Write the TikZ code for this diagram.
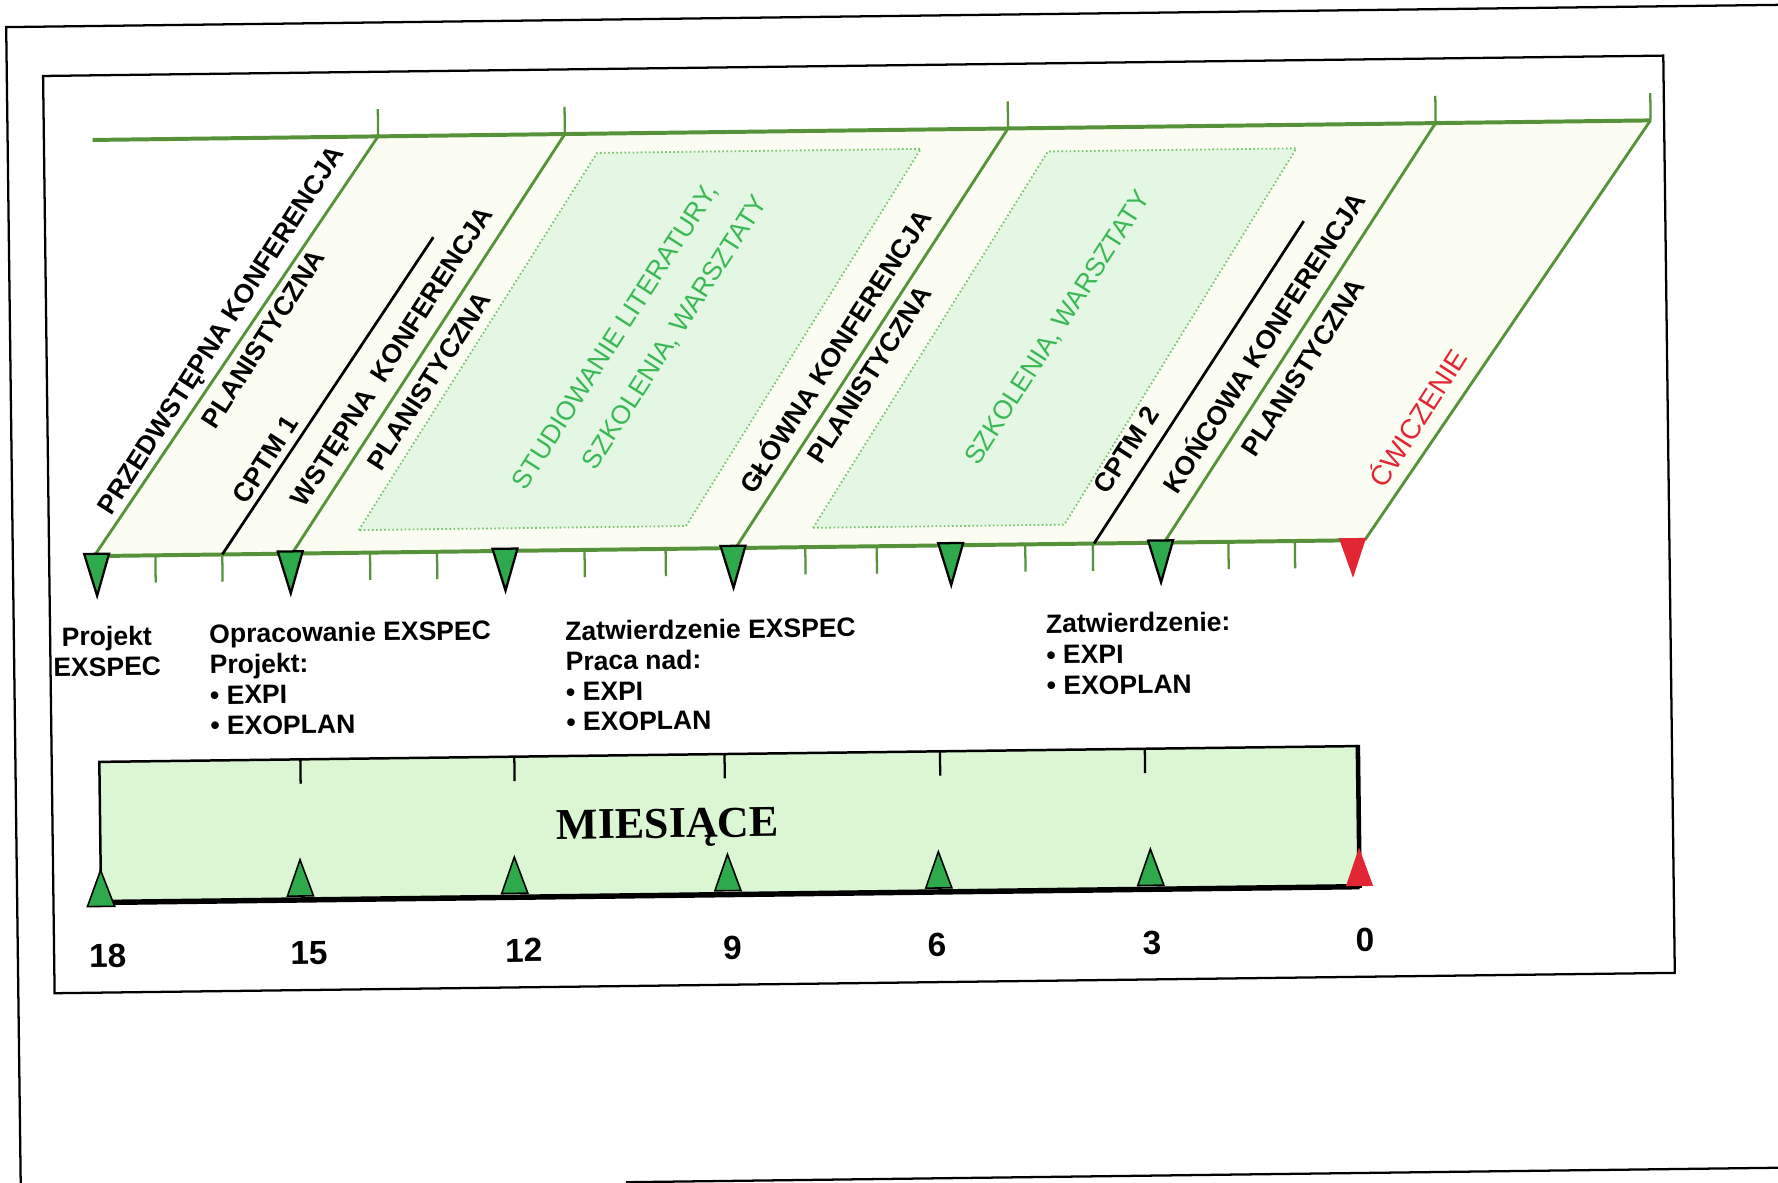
\documentclass[tikz,border=0pt]{standalone}
\usepackage{fontspec}
\setmainfont{Liberation Sans}
\newfontfamily\serifbold{Liberation Serif}
\definecolor{bandline}{RGB}{86,146,58}
\definecolor{bandfill}{RGB}{252,253,242}
\definecolor{studyfill}{RGB}{227,247,227}
\definecolor{studydot}{RGB}{120,196,110}
\definecolor{markgreen}{RGB}{46,170,76}
\definecolor{markred}{RGB}{226,38,52}
\definecolor{textgreen}{RGB}{58,184,84}
\definecolor{barfill}{RGB}{219,246,211}
\begin{document}
\begin{tikzpicture}[x=0.5pt,y=-0.5pt,
  slantlabel/.style={font=\fontsize{11.7}{14}\selectfont\bfseries, rotate=57.3,
    inner sep=0pt, text height=8.4pt, text depth=0pt},
  greenlabel/.style={font=\fontsize{11.6}{14}\selectfont, text=textgreen, rotate=57.3,
    inner sep=0pt, text height=8.3pt, text depth=0pt},
  redlabel/.style={font=\fontsize{12.3}{14}\selectfont, text=markred, rotate=57.3,
    inner sep=0pt, text height=8.8pt, text depth=0pt},
  noteline/.style={font=\fontsize{11.7}{13.5}\selectfont\bfseries, anchor=base west,
    inner sep=0pt, rotate=0.72},
  notecentre/.style={noteline, anchor=base},
  monthnum/.style={font=\fontsize{14.7}{16}\selectfont\bfseries, anchor=base,
    inner sep=0pt, rotate=0.72},
  bandstroke/.style={bandline, line width=1.75pt},
  slantstroke/.style={bandline, line width=1.25pt},
  tickstroke/.style={bandline, line width=1pt},
  downmark/.style={fill=markgreen, draw=black, line width=1pt, line join=miter},
  upmark/.style={fill=markgreen, draw=black, line width=0.7pt, line join=miter}
]
\useasboundingbox (0,0) rectangle (1568,1043);
\clip (0,0) rectangle (1568,1043);
\fill[white] (0,0) rectangle (1568,1043);

\begin{scope}[rotate around={0.72:(38,67)}]
  % page edges and frame
  \draw[line width=1pt] (1650,23.5) -- (6,23.5) -- (6,1120);
  \draw[line width=1pt] (540,1049) -- (1650,1049);
  \draw[line width=1pt] (38,67) rectangle (1467,876);

  % slanted band geometry
  \coordinate (topstart) at (81,124);
  \coordinate (l1b) at (77.7,491);   \coordinate (l1t) at (332.8,124);
  \coordinate (l2b) at (252.2,491);  \coordinate (l2t) at (497.5,124);
  \coordinate (l3b) at (643.5,491);  \coordinate (l3t) at (888.4,124);
  \coordinate (l4b) at (1021.4,491); \coordinate (l4t) at (1265.5,124);
  \coordinate (l5b) at (1198.5,491); \coordinate (l5t) at (1455.1,124);
  \coordinate (c1b) at (190.7,491);  \coordinate (c1t) at (380.4,213.5);
  \coordinate (c2b) at (959.7,491);  \coordinate (c2t) at (1148.2,209);

  \fill[bandfill] (l1b) -- (l1t) -- (l5t) -- (l5b) -- cycle;

  % study / workshop areas
  \filldraw[fill=studyfill, draw=studydot, line width=0.8pt, dash pattern=on 0.7pt off 1.1pt]
    (311.4,471) -- (525.6,141) -- (811.2,141) -- (600,471) -- cycle;
  \filldraw[fill=studyfill, draw=studydot, line width=0.8pt, dash pattern=on 0.7pt off 1.1pt]
    (712,474) -- (923.2,144.7) -- (1142.4,144.7) -- (933.6,474) -- cycle;

  % band outline
  \draw[bandstroke] (topstart) -- (l5t);
  \draw[bandstroke] (l1b) -- (l5b);
  \foreach \p in {l1,l2,l3,l4,l5}
    \draw[slantstroke] (\p b) -- (\p t);
  \draw[black, line width=1.2pt] (c1b) -- (c1t);
  \draw[black, line width=1.2pt] (c2b) -- (c2t);

  % ticks above and below the band
  \foreach \u in {332.8,497.5,888.4,1265.5,1455.1}
    \draw[tickstroke] (\u,124) -- (\u,100);
  \foreach \u in {131.7,190.7,321,380.1,510.2,581.7,704.9,767.9,898.9,958.5,1078.1,1136.7}
    \draw[tickstroke] (\u,491) -- (\u,515);

  % milestone markers on the band
  \foreach \u in {79.9,250.7,440.1,641.2,833.2,1018.3}
    \filldraw[downmark] (\u-11,489) -- (\u+11,489) -- (\u,526) -- cycle;
  \fill[markred] (1187.6-12,489) -- (1187.6+12,489) -- (1187.6,524) -- cycle;

  % slanted labels
  \node[slantlabel] (przed) at (191.5,292.9) {PRZEDWSTĘPNA KONFERENCJA};
  \node[slantlabel] (plan1) at (229,301.1) {PLANISTYCZNA};
  \node[slantlabel] (cptm1) at (229.6,407.5) {CPTM 1};
  \node[slantlabel] (wstep) at (342,317.8) {WSTĘPNA\ \ KONFERENCJA};
  \node[slantlabel] (plan2) at (374.5,340.1) {PLANISTYCZNA};
  \node[greenlabel] (study) at (539,302.5) {STUDIOWANIE LITERATURY,};
  \node[greenlabel] (train1) at (591.5,299.5) {SZKOLENIA, WARSZTATY};
  \node[slantlabel] (glowna) at (733.5,318.8) {GŁÓWNA KONFERENCJA};
  \node[slantlabel] (plan3) at (763.2,339.2) {PLANISTYCZNA};
  \node[greenlabel] (train2) at (929,299.9) {SZKOLENIA, WARSZTATY};
  \node[slantlabel] (cptm2) at (988.8,408.6) {CPTM 2};
  \node[slantlabel] (koncowa) at (1112,315.6) {KOŃCOWA KONFERENCJA};
  \node[slantlabel] (plan4) at (1145.8,338) {PLANISTYCZNA};
  \node[redlabel] (cwicz) at (1247,384) {ĆWICZENIE};

  % notes under the band
  \node[notecentre] (na1) at (88,570) {Projekt};
  \node[notecentre] (na2) at (88,597) {EXSPEC};
  \node[noteline] (nb1) at (178,569) {Opracowanie EXSPEC};
  \node[noteline] (nb2) at (178,596) {Projekt:};
  \node[noteline] (nb3) at (178,623) {• EXPI};
  \node[noteline] (nb4) at (178,650) {• EXOPLAN};
  \node[noteline] (nc1) at (492,570.5) {Zatwierdzenie EXSPEC};
  \node[noteline] (nc2) at (492,597) {Praca nad:};
  \node[noteline] (nc3) at (492,624) {• EXPI};
  \node[noteline] (nc4) at (492,650.5) {• EXOPLAN};
  \node[noteline] (nd1) at (916,569.4) {Zatwierdzenie:};
  \node[noteline] (nd2) at (916,596.7) {• EXPI};
  \node[noteline] (nd3) at (916,624) {• EXOPLAN};

  % month scale
  \fill[barfill] (80,672.5) rectangle (1190,796.5);
  \draw[line width=1.1pt] (80,796.5) -- (80,672.5) -- (1190,672.5);
  \draw[line width=2.4pt] (80,796.5) -- (1190,796.5);
  \draw[line width=2pt] (1190,671.5) -- (1190,797.5);
  \foreach \u in {257.3,446,631.4,821.4,1002.1}
    \draw[line width=1pt] (\u,672.5) -- (\u,694);
  \filldraw[upmark] (79.9-12,800) -- (79.9+12,800) -- (79.9,768) -- cycle;
  \foreach \u in {255.9,444.9,632.9,818.9,1005.9}
    \filldraw[upmark] (\u-11.5,793) -- (\u+11.5,793) -- (\u,761) -- cycle;
  \fill[markred] (1189.9-12,796) -- (1189.9+12,796) -- (1189.9,762) -- cycle;

  \node[anchor=base, inner sep=0pt, rotate=0.72,
        font=\serifbold\bfseries\fontsize{19.4}{22}\selectfont] (months) at (580.5,745.9) {MIESIĄCE};

  \node[monthnum] (m18) at (85.2,853.5) {18};
  \node[monthnum] (m15) at (262.8,853.5) {15};
  \node[monthnum] (m12) at (452.2,853.5) {12};
  \node[monthnum] (m9) at (636.2,853.5) {9};
  \node[monthnum] (m6) at (816.7,853.5) {6};
  \node[monthnum] (m3) at (1006.2,853.5) {3};
  \node[monthnum] (m0) at (1194.2,853.5) {0};
\end{scope}
\end{tikzpicture}
\end{document}
